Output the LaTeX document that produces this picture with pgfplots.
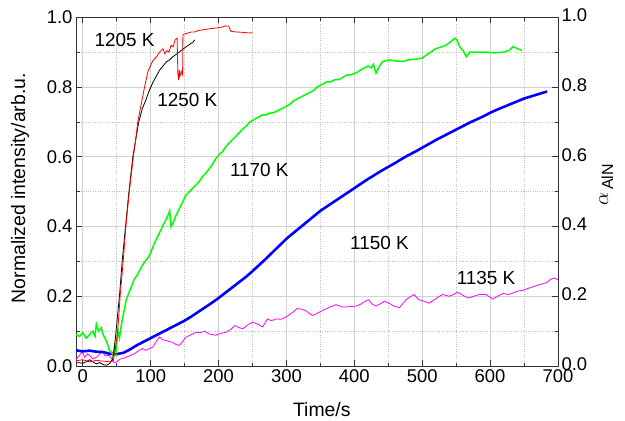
\documentclass[border=0pt]{standalone}
\usepackage{pgfplots}
\pgfplotsset{compat=1.18}
\usepackage{fontspec}
\setmainfont{Liberation Sans}
\definecolor{mag}{RGB}{255,0,255}
\definecolor{grn}{RGB}{0,255,0}
\definecolor{blu}{RGB}{0,0,255}
\definecolor{rd}{RGB}{255,0,0}
\begin{document}
\begin{tikzpicture}
\begin{axis}[
  scale only axis, width=482bp, height=348.7bp,
  xmin=-10, xmax=700, ymin=0, ymax=1,
  xtick={0,100,200,300,400,500,600,700},
  ytick={0,0.2,0.4,0.6,0.8,1},
  minor x tick num=1, minor y tick num=1,
  grid=both,
  major grid style={gray!35, line width=0.7pt},
  minor grid style={gray!50, dotted, line width=0.6pt},
  tick align=inside,
  xticklabel pos=lower, yticklabel pos=left,
  major tick length=6bp, minor tick length=3.5bp,
  every tick/.style={black!80, line width=0.8pt},
  axis line style={black!80, line width=1pt},
  ticklabel style={font=\fontsize{18.5}{20}\selectfont},
  /pgf/number format/assume math mode=true,
  yticklabel style={/pgf/number format/.cd, fixed, fixed zerofill, precision=1},
  xticklabel style={/pgf/number format/.cd, fixed, precision=0},
  xlabel={Time/s},
  xlabel style={at={(axis description cs:0.51,-0.126)}, anchor=center, font=\fontsize{19.5}{21}\selectfont},
  ylabel={Normalized intensity/arb.u.},
  ylabel style={at={(axis description cs:-0.116,0.51)}, anchor=center, font=\fontsize{19.5}{21}\selectfont},
  clip mode=individual,
]
\coordinate (bl) at (rel axis cs:0,0);
\coordinate (tr) at (rel axis cs:1,1);

% 1135 K
\addplot[mag, line width=0.8pt] coordinates {
(-10,0.02) (-5,0.03) (-1,0.041) (3,0.025) (7,0.035) (10,0.03) (15,0.02) (20,0.025) (25,0.035) (29,0.04) (33,0.03) (39,0.03) (43,0.02) (46,0.01) (50,0.012) (55,0.02) (60,0.022) (64,0.025) (70,0.03) (76,0.035) (83,0.045) (88,0.05) (93,0.045) (98,0.05) (103,0.054) (108,0.07) (113,0.083) (118,0.075) (123,0.073) (128,0.07) (132,0.068) (137,0.062) (142,0.059) (147,0.07) (152,0.083) (160,0.09) (167,0.097) (173,0.095) (179,0.10) (186,0.092) (191,0.09) (196,0.088) (204,0.094) (211,0.097) (218,0.105) (224,0.116) (230,0.11) (236,0.107) (243,0.118) (250,0.126) (258,0.12) (265,0.112) (272,0.135) (278,0.13) (285,0.135) (292,0.134) (299,0.14) (305,0.148) (310,0.155) (316,0.165) (322,0.163) (329,0.158) (334,0.15) (339,0.145) (344,0.15) (349,0.155) (356,0.162) (364,0.169) (373,0.176) (378,0.172) (383,0.169) (392,0.17) (403,0.172) (410,0.178) (416,0.186) (421,0.19) (426,0.178) (432,0.172) (438,0.178) (444,0.186) (451,0.18) (458,0.172) (466,0.167) (471,0.178) (476,0.19) (482,0.198) (488,0.205) (495,0.19) (502,0.186) (510,0.18) (518,0.19) (525,0.2) (530,0.205) (540,0.2) (546,0.205) (552,0.212) (558,0.205) (564,0.198) (569,0.195) (576,0.2) (584,0.205) (594,0.205) (604,0.192) (611,0.2) (619,0.208) (627,0.205) (634,0.21) (641,0.215) (648,0.217) (655,0.222) (663,0.227) (670,0.232) (678,0.236) (684,0.24) (690,0.25) (695,0.252) (700,0.247)
};

% 1150 K
\addplot[blu, line width=2.6pt] coordinates {
(-10,0.045) (0,0.042) (10,0.044) (20,0.041) (30,0.04) (40,0.035) (50,0.034) (60,0.038) (70,0.048) (80,0.06) (90,0.07) (100,0.08) (110,0.09) (120,0.10) (130,0.11) (140,0.12) (150,0.13) (160,0.142) (170,0.155) (180,0.168) (190,0.181) (200,0.195) (210,0.21) (220,0.225) (230,0.24) (240,0.255) (250,0.272) (260,0.29) (270,0.308) (280,0.327) (290,0.346) (300,0.365) (310,0.381) (320,0.397) (330,0.413) (340,0.429) (350,0.445) (360,0.458) (370,0.471) (380,0.484) (390,0.497) (400,0.51) (410,0.523) (420,0.536) (430,0.548) (440,0.56) (450,0.571) (460,0.582) (470,0.594) (480,0.605) (490,0.615) (500,0.626) (510,0.637) (520,0.648) (530,0.658) (540,0.668) (550,0.678) (560,0.688) (570,0.698) (580,0.707) (590,0.716) (600,0.726) (610,0.735) (620,0.743) (630,0.751) (640,0.759) (650,0.767) (660,0.773) (670,0.779) (680,0.785) (684,0.787)
};

% 1170 K
\addplot[grn, line width=1.5pt] coordinates {
(-10,0.09) (-5,0.085) (0,0.095) (5,0.08) (10,0.09) (15,0.10) (18,0.085) (20,0.12) (23,0.10) (27,0.11) (30,0.09) (34,0.075) (37,0.06) (39,0.045) (42,0.04) (45,0.03) (47,0.06) (49,0.04) (51.6,0.10) (54,0.08) (57,0.12) (60,0.15) (64,0.19) (68,0.21) (72,0.23) (76,0.25) (80,0.26) (84,0.275) (88,0.29) (92,0.30) (96,0.31) (100,0.325) (105,0.35) (110,0.37) (115,0.39) (120,0.41) (125,0.43) (128,0.445) (130,0.40) (133,0.41) (137,0.43) (142,0.45) (147,0.47) (152,0.49) (157,0.50) (162,0.51) (167,0.52) (172,0.53) (177,0.545) (182,0.555) (190,0.575) (196,0.595) (201,0.607) (206,0.615) (211,0.63) (216,0.64) (221,0.65) (226,0.66) (231,0.67) (236,0.68) (241,0.688) (246,0.70) (251,0.705) (255,0.71) (260,0.715) (265,0.72) (270,0.72) (275,0.725) (280,0.726) (285,0.73) (290,0.735) (295,0.74) (300,0.745) (305,0.75) (310,0.76) (315,0.765) (320,0.77) (325,0.775) (330,0.78) (335,0.785) (340,0.79) (345,0.80) (350,0.805) (355,0.81) (360,0.815) (365,0.815) (370,0.82) (378,0.822) (385,0.83) (390,0.835) (395,0.835) (403,0.841) (410,0.85) (415,0.855) (420,0.86) (425,0.855) (428,0.865) (432,0.84) (437,0.86) (442,0.873) (451,0.878) (460,0.875) (471,0.873) (480,0.878) (490,0.88) (500,0.883) (510,0.897) (520,0.91) (528,0.915) (535,0.92) (542,0.93) (548,0.94) (551,0.935) (555,0.916) (560,0.905) (565,0.887) (570,0.90) (580,0.90) (594,0.90) (605,0.898) (619,0.90) (628,0.905) (634,0.916) (640,0.91) (647,0.905)
};

% 1250 K
\addplot[black, line width=0.8pt] coordinates {
(-8,0.010) (0,0.008) (5,0.012) (10,0.018) (15,0.012) (20,0.006) (25,0.010) (30,0.004) (35,0.002) (40,0.008) (44,0.02) (47,0.06) (49,0.10) (54,0.20) (58,0.30) (63,0.40) (68,0.50) (73.7,0.60) (78,0.65) (82.5,0.70) (88,0.74) (93,0.763) (98,0.79) (103,0.812) (108,0.83) (113,0.848) (118,0.86) (123,0.872) (128,0.878) (132,0.886) (137,0.893) (142,0.90) (147,0.908) (152,0.915) (157,0.922) (162,0.928) (165,0.935)
};

% 1205 K
\addplot[rd, line width=0.8pt] coordinates {
(-10,0.015) (0,0.018) (10,0.012) (20,0.016) (30,0.014) (40,0.012) (45,0.015) (48,0.05) (51.5,0.10) (55,0.20) (59.5,0.30) (63.5,0.40) (68.5,0.50) (74.5,0.60) (78,0.65) (81,0.70) (86,0.75) (91,0.80) (96,0.845) (103,0.875) (108,0.885) (113,0.90) (118,0.91) (121,0.895) (124,0.905) (127,0.90) (130,0.92) (133,0.915) (136,0.935) (139,0.94) (140,0.84) (141,0.82) (142,0.85) (143,0.83) (145,0.845) (147,0.835) (147.5,0.95) (150,0.952) (155,0.955) (160,0.958) (165,0.958) (170,0.962) (180,0.965) (190,0.968) (200,0.970) (205,0.972) (210,0.975) (215,0.975) (218,0.96) (225,0.958) (235,0.957) (245,0.955) (250,0.956)
};

\node[font=\fontsize{19}{21}\selectfont] at (axis cs:61.5,0.935) {1205 K};
\node[font=\fontsize{19}{21}\selectfont] at (axis cs:154,0.763) {1250 K};
\node[font=\fontsize{19}{21}\selectfont] at (axis cs:260,0.562) {1170 K};
\node[font=\fontsize{19}{21}\selectfont] at (axis cs:437,0.353) {1150 K};
\node[font=\fontsize{19}{21}\selectfont] at (axis cs:594,0.252) {1135 K};
\end{axis}

\begin{axis}[
  scale only axis, width=482bp, height=348.7bp,
  xmin=-10, xmax=700, ymin=0, ymax=1,
  axis x line=none, axis y line*=right,
  y axis line style={draw=none},
  ytick={0,0.2,0.4,0.6,0.8,1},
  major tick length=0pt,
  ticklabel style={font=\fontsize{18.5}{20}\selectfont},
  yticklabel style={yshift=2bp},
  /pgf/number format/assume math mode=true,
  yticklabel style={/pgf/number format/.cd, fixed, fixed zerofill, precision=1},
  ylabel={$\alpha$\raisebox{-0.45ex}{\fontsize{16}{18}\selectfont\,AlN}},
  ylabel style={at={(axis description cs:1.1,0.52)}, anchor=center, rotate=0, font=\fontsize{21}{23}\selectfont},
]
\addplot[draw=none] coordinates {(0,0) (700,1)};
\end{axis}

\pgfresetboundingbox
\path ([xshift=-76bp,yshift=-54bp]bl) rectangle ([xshift=67bp,yshift=17.3bp]tr);
\end{tikzpicture}
\end{document}
